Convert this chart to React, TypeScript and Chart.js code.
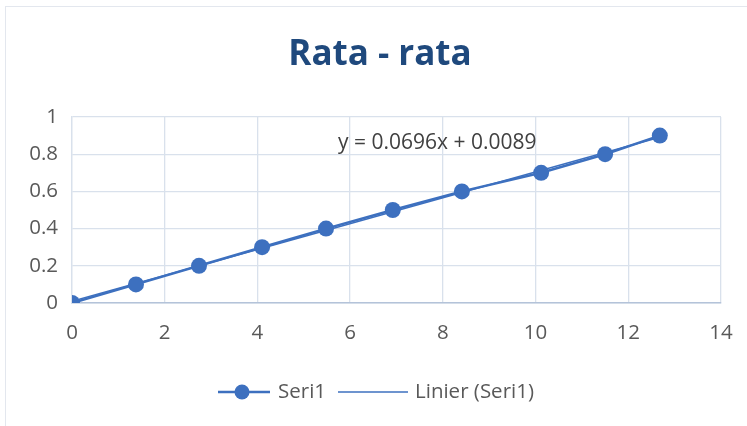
import React, { useEffect, useRef } from "react";
import { Chart, registerables } from "chart.js";

Chart.register(...registerables);

const xValues = [0, 1.38, 2.74, 4.1, 5.48, 6.92, 8.41, 10.12, 11.5, 12.68];
const yValues = [0, 0.1, 0.2, 0.3, 0.4, 0.5, 0.6, 0.7, 0.8, 0.9];
const slope = 0.0696;
const intercept = 0.0089;
const titleText = "Rata - rata";
const equationText = "y = 0.0696x + 0.0089";
const seriesLabel = "Seri1";
const trendLabel = "Linier (Seri1)";

const BLUE = "#3d70bf";
const FONT = "'Open Sans', 'Noto Sans', sans-serif";

export default function App() {
  const ref = useRef<HTMLCanvasElement | null>(null);

  useEffect(() => {
    if (!ref.current) return;
    const pts = xValues.map((x, i) => ({ x, y: yValues[i] }));
    const xMin = Math.min(...xValues);
    const xMax = Math.max(...xValues);
    const trend = [
      { x: xMin, y: slope * xMin + intercept },
      { x: xMax, y: slope * xMax + intercept },
    ];

    const overlay = {
      id: "overlay",
      afterDraw(chart: any) {
        const ctx = chart.ctx as CanvasRenderingContext2D;
        ctx.save();
        // title
        ctx.fillStyle = "#1f497d";
        ctx.font = `bold 35px ${FONT}`;
        ctx.textAlign = "center";
        ctx.textBaseline = "middle";
        ctx.fillText(titleText, 380, 55);
        // equation
        ctx.fillStyle = "#404040";
        ctx.font = `21px ${FONT}`;
        ctx.textAlign = "left";
        ctx.fillText(equationText, 338, 143);
        // legend
        const ly = 392;
        ctx.strokeStyle = BLUE;
        ctx.lineWidth = 2.5;
        ctx.beginPath();
        ctx.moveTo(218, ly);
        ctx.lineTo(270, ly);
        ctx.stroke();
        ctx.fillStyle = BLUE;
        ctx.beginPath();
        ctx.arc(242, ly, 7.5, 0, Math.PI * 2);
        ctx.fill();
        ctx.fillStyle = "#595959";
        ctx.font = `20.5px ${FONT}`;
        ctx.fillText(seriesLabel, 278, ly);
        ctx.lineWidth = 1.5;
        ctx.beginPath();
        ctx.moveTo(338, ly);
        ctx.lineTo(408, ly);
        ctx.stroke();
        ctx.fillText(trendLabel, 415, ly);
        ctx.restore();
      },
    };

    const chart = new Chart(ref.current, {
      type: "scatter",
      data: {
        datasets: [
          {
            label: trendLabel,
            data: trend,
            showLine: true,
            borderColor: BLUE,
            borderWidth: 1.5,
            pointRadius: 0,
            order: 2,
          },
          {
            label: seriesLabel,
            data: pts,
            showLine: true,
            borderColor: BLUE,
            backgroundColor: BLUE,
            borderWidth: 2.5,
            pointRadius: 8,
            pointBorderWidth: 0,
            order: 1,
          },
        ],
      },
      options: {
        animation: false,
        responsive: false,
        layout: { padding: { left: 0, right: 26, top: 117, bottom: 83 } },
        plugins: {
          legend: { display: false },
          title: { display: false },
          tooltip: { enabled: false },
        },
        scales: {
          x: {
            type: "linear",
            min: 0,
            max: 14,
            ticks: {
              stepSize: 2,
              color: "#595959",
              font: { family: FONT, size: 20.5 },
              padding: 18,
            },
            grid: { color: "#d9e1ec", drawTicks: false, lineWidth: 1.3 },
            border: { color: "#b4c3d9", width: 1.5 },
            afterFit(scale: any) {
              scale.height = 40;
              scale.paddingLeft = 0;
              scale.paddingRight = 0;
            },
          },
          y: {
            min: 0,
            max: 1,
            ticks: {
              stepSize: 0.2,
              color: "#595959",
              font: { family: FONT, size: 20.5 },
              padding: 14,
              callback: (v: any) => String(Math.round(Number(v) * 10) / 10),
            },
            grid: { color: "#d9e1ec", drawTicks: false, lineWidth: 1.3 },
            border: { color: "#d9e1ec", width: 1.3 },
            afterFit(scale: any) {
              scale.width = 72;
              scale.paddingTop = 0;
              scale.paddingBottom = 0;
            },
          },
        },
      },
      plugins: [overlay],
    });
    return () => chart.destroy();
  }, []);

  return (
    <div style={{ position: "fixed", left: 0, top: 0, width: 747, height: 426, background: "#fff" }}>
      <div
        style={{
          position: "absolute",
          left: 5,
          top: 6,
          width: 760,
          height: 440,
          borderLeft: "1.5px solid #e3e7ee",
          borderTop: "1.5px solid #e3e7ee",
        }}
      />
      <canvas ref={ref} width={747} height={426} style={{ position: "absolute", left: 0, top: 0 }} />
    </div>
  );
}
